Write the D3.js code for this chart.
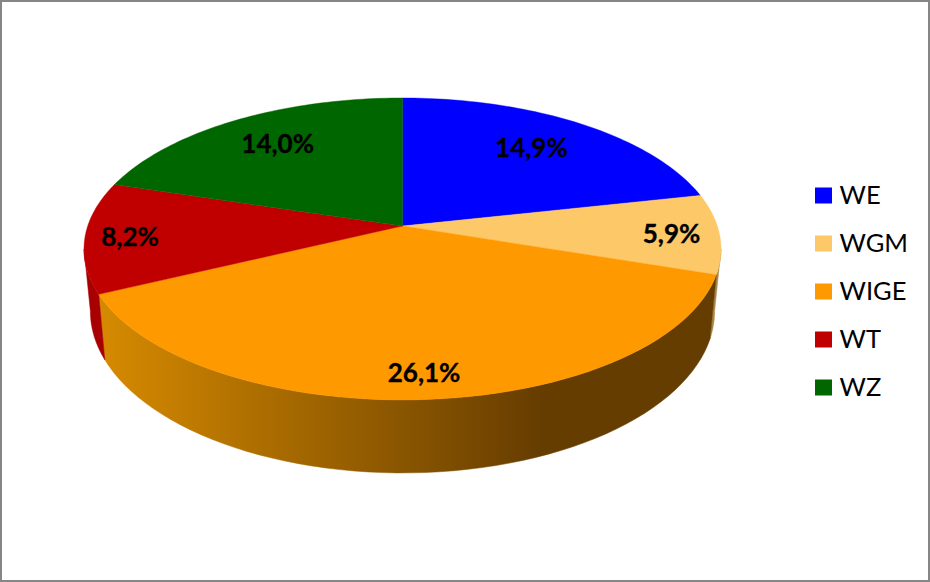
<!DOCTYPE html>
<html>
<head>
<meta charset="utf-8">
<script src="https://cdn.jsdelivr.net/npm/d3@7"></script>
<style>
html,body{margin:0;padding:0;background:#fff}
svg{display:block}
text{font-family:Lato,"Open Sans",sans-serif;fill:#000}
</style>
</head>
<body>
<svg id="chart" width="930" height="582"></svg>
<script>
const categories = ["WE", "WGM", "WIGE", "WT", "WZ"];
const values = [14.9, 5.9, 26.1, 8.2, 14.0];
const valueLabels = ["14,9%", "5,9%", "26,1%", "8,2%", "14,0%"];
const topColors = ["#0000ff", "#fcc868", "#ff9900", "#c00000", "#006600"];
const sideColors = ["#0000a8", "#a8854a", "#663d00", "#a80000", "#004400"];

const W = 930, H = 582;
const cx = 402.5, cyTop = 226, R = 314.8, bTop = 147.5, k = 0.152;
const cyBot = 286.6, sBot = 0.98, bBot = 158;
// small manual label nudges, as in the reference's placement
const labelNudgeX = [-2, 0, 2, -3, -1];
const labelNudgeY = [-3, 0, 2, 0, -5];

const svg = d3.select("#chart");
svg.append("rect").attr("x",1).attr("y",1).attr("width",W-2).attr("height",H-2)
  .attr("fill","#fff").attr("stroke","#868686").attr("stroke-width",2);

const defs = svg.append("defs");
const grad = defs.append("linearGradient").attr("id","wigeSide")
  .attr("gradientUnits","userSpaceOnUse").attr("x1",100).attr("x2",540).attr("y1",0).attr("y2",0);
grad.append("stop").attr("offset","0").attr("stop-color","#d68a00");
grad.append("stop").attr("offset","1").attr("stop-color","#663d00");

const color = d3.scaleOrdinal().domain(categories).range(topColors);
const side = d3.scaleOrdinal().domain(categories).range(sideColors);

const pie = d3.pie().sort(null).value((d,i)=>values[i]);
const arcs = pie(categories);

function projTop(a, f=1){
  const u=Math.sin(a)*f, v=-Math.cos(a)*f, d=1-k*v;
  return [cx+R*u/d, cyTop+bTop*v/d];
}
function projBot(a){
  const u=Math.sin(a), v=-Math.cos(a), d=1-k*v;
  return [cx+sBot*R*u/d, cyBot+bBot*v/d];
}
const line = d3.line();
const span = (a0,a1)=>d3.range(0,61).map(i=>a0+(a1-a0)*i/60);

// visible side wall: the front part of the rim, between the silhouette tangents
const tA = Math.acos(-k), frontStart = tA, frontEnd = 2*Math.PI-tA;
const walls = arcs.map(d=>({
  name:d.data,
  a0:Math.max(d.startAngle,frontStart),
  a1:Math.min(d.endAngle,frontEnd)
})).filter(d=>d.a1>d.a0);

svg.append("g").selectAll("path").data(walls).join("path")
  .attr("d",d=>{
    const t=span(d.a0,d.a1);
    return line(t.map(a=>projTop(a)).concat(t.slice().reverse().map(projBot)))+"Z";
  })
  .attr("fill",d=>d.name==="WIGE"?"url(#wigeSide)":side(d.name))
  .attr("stroke",d=>d.name==="WIGE"?"url(#wigeSide)":side(d.name))
  .attr("stroke-width",0.5);

svg.append("g").selectAll("path").data(arcs).join("path")
  .attr("d",d=>{
    const t=span(d.startAngle,d.endAngle);
    return line([[cx,cyTop]].concat(t.map(a=>projTop(a))))+"Z";
  })
  .attr("fill",d=>color(d.data))
  .attr("stroke",d=>color(d.data))
  .attr("stroke-width",0.4);

svg.append("g").selectAll("text").data(arcs).join("text")
  .attr("transform",(d,i)=>{
    const m=(d.startAngle+d.endAngle)/2;
    const f=-Math.cos(m)<-0.5?0.72:0.85;
    const p=projTop(m,f);
    return `translate(${p[0]+labelNudgeX[i]},${p[1]+1+labelNudgeY[i]})`;
  })
  .attr("text-anchor","middle").attr("dy","0.35em")
  .attr("font-size",26).attr("font-weight",700)
  .style("stroke","#000").style("stroke-width",0.35)
  .text((d,i)=>valueLabels[i]);

const legendY = d3.scalePoint().domain(categories).range([195.5,387.5]);
const leg = svg.append("g").selectAll("g").data(categories).join("g")
  .attr("transform",d=>`translate(815,${legendY(d)})`);
leg.append("rect").attr("x",0).attr("y",-8).attr("width",17).attr("height",16)
  .attr("fill",d=>color(d));
leg.append("text").attr("x",24.5).attr("dy","0.35em").attr("font-size",25.5).text(d=>d);
</script>
</body>
</html>
